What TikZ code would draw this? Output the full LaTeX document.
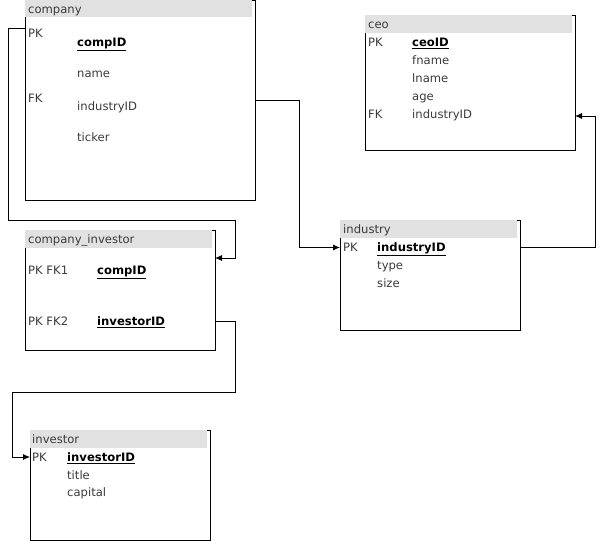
\documentclass[tikz,border=0pt]{standalone}
\usepackage{fontspec}
\setmainfont{DejaVu Sans}
\usetikzlibrary{arrows.meta}

\definecolor{hdrgray}{HTML}{E1E1E1}
\definecolor{txtgray}{HTML}{3A3A3A}
\newcommand{\erfont}{\fontsize{11.6}{13}\selectfont}

\tikzset{
    tbl/.style={draw, line width=0.8pt, anchor=north west, inner sep=0pt},
    fld/.style={anchor=mid west, inner sep=0pt, yshift=-1.5pt, text=txtgray, font=\erfont},
    keyfld/.style={fld, text=black, font=\erfont\bfseries},
    link/.style={line width=0.8pt, -{Latex[length=7pt,width=6pt]}}
}

\begin{document}
\begin{tikzpicture}[x=1pt, y=-1pt]
    \useasboundingbox (0,0) rectangle (607,553);

    % company
    \node[tbl, minimum width=230pt, minimum height=200pt] (company) at (25,0) {};
    \fill[hdrgray] (company.north west) rectangle ++(227,17);
    \node[fld] (companyT) at (28,9.5) {company};
    \node[fld] (companyPK) at (28,33.5) {PK};
    \node[keyfld] (companyID) at (77,42) {\underline{compID}};
    \node[fld] (companyName) at (77,73) {name};
    \node[fld] (companyFK) at (28,98.5) {FK};
    \node[fld] (companyInd) at (77,106) {industryID};
    \node[fld] (companyTicker) at (77,137.5) {ticker};

    % company_investor
    \node[tbl, minimum width=190pt, minimum height=120pt] (compinv) at (25,230) {};
    \fill[hdrgray] (compinv.north west) rectangle ++(187,18);
    \node[fld] (compinvT) at (28,239) {company\_investor};
    \node[fld] (compinvK1) at (28,270) {PK FK1};
    \node[keyfld] (compinvComp) at (97,270) {\underline{compID}};
    \node[fld] (compinvK2) at (28,321) {PK FK2};
    \node[keyfld] (compinvInv) at (97,321) {\underline{investorID}};

    % investor
    \node[tbl, minimum width=180pt, minimum height=110pt] (investor) at (30,430) {};
    \fill[hdrgray] (investor.north west) rectangle ++(177,18);
    \node[fld] (investorT) at (32,439) {investor};
    \node[fld] (investorPK) at (32,457) {PK};
    \node[keyfld] (investorID) at (67,457) {\underline{investorID}};
    \node[fld] (investorTitle) at (67,475) {title};
    \node[fld] (investorCap) at (67,492) {capital};

    % ceo
    \node[tbl, minimum width=210pt, minimum height=135pt] (ceo) at (365,15) {};
    \fill[hdrgray] (ceo.north west) rectangle ++(207,18);
    \node[fld] (ceoT) at (368,24) {ceo};
    \node[fld] (ceoPK) at (368,42) {PK};
    \node[keyfld] (ceoID) at (412,42) {\underline{ceoID}};
    \node[fld] (ceoF) at (412,60) {fname};
    \node[fld] (ceoL) at (412,78) {lname};
    \node[fld] (ceoAge) at (412,96) {age};
    \node[fld] (ceoFK) at (368,114) {FK};
    \node[fld] (ceoInd) at (412,114) {industryID};

    % industry
    \node[tbl, minimum width=180pt, minimum height=110pt] (industry) at (340,220) {};
    \fill[hdrgray] (industry.north west) rectangle ++(177,18);
    \node[fld] (industryT) at (343,229) {industry};
    \node[fld] (industryPK) at (343,247) {PK};
    \node[keyfld] (industryID) at (377,247) {\underline{industryID}};
    \node[fld] (industryType) at (377,265) {type};
    \node[fld] (industrySize) at (377,283) {size};

    % ports on the table edges
    \coordinate (companyOut) at (25,28.5);
    \coordinate (companyIndOut) at (255,100);
    \coordinate (compinvIn) at (215,258);
    \coordinate (compinvOut) at (215,321);
    \coordinate (industryIn) at (340,247.5);
    \coordinate (industryOut) at (520,247.5);
    \coordinate (ceoIn) at (575,116);
    \coordinate (investorIn) at (30,457);

    % relations
    \draw[link] (companyOut) -- (8,28.5) -- (8,220) -- (235,220) -- (235,258) -- (compinvIn);
    \draw[link] (companyIndOut) -- (299.5,100) -- (299.5,247.5) -- (industryIn);
    \draw[link] (industryOut) -- (595,247.5) -- (595,116) -- (ceoIn);
    \draw[link] (compinvOut) -- (235,321) -- (235,392) -- (12,392) -- (12,457) -- (investorIn);
\end{tikzpicture}
\end{document}
